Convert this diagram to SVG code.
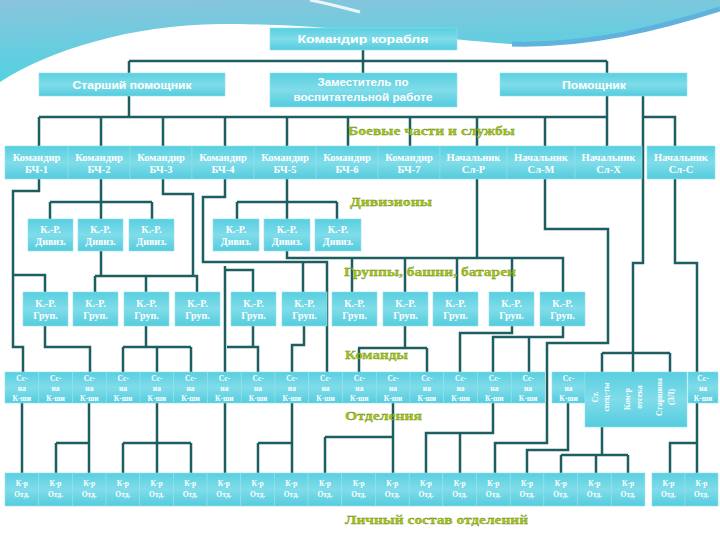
<svg xmlns="http://www.w3.org/2000/svg" width="720" height="540" viewBox="0 0 720 540">
<defs>
<linearGradient id="sky" x1="0" y1="0" x2="0.25" y2="1"><stop offset="0" stop-color="#8ac4db"/><stop offset="1" stop-color="#4fd3e3"/></linearGradient>
<linearGradient id="bx" x1="0" y1="0" x2="0" y2="1"><stop offset="0" stop-color="#58cfe0"/><stop offset="0.5" stop-color="#80dce9"/><stop offset="1" stop-color="#54ccde"/></linearGradient>
<style>
.n{fill:url(#bx);stroke:#8fe2ec;stroke-width:0.6}
.t{font-family:"Liberation Serif","DejaVu Serif",serif;font-weight:bold;fill:#fff;text-anchor:middle}
.s{font-family:"Liberation Sans","DejaVu Sans",sans-serif;font-weight:bold;fill:#fff;text-anchor:middle;font-size:11px}
.c path{fill:none;stroke:#1d5e60;stroke-width:2.5}
.l{font-family:"Liberation Serif","DejaVu Serif",serif;font-weight:bold;fill:#a6c41c;stroke:#6e8c12;stroke-width:0.3;font-size:13.5px}
.b{font-size:10.5px}
.d{font-size:10px}
.m{font-size:7.5px}
.v{font-size:8px}
</style>
</defs>
<rect width="720" height="540" fill="#ffffff"/>
<path d="M0,0 H720 V8 C660,28 580,48 510,44 C460,40 400,34 360,31 C320,27 280,24 220,24 C130,25 50,50 0,82 Z" fill="url(#sky)"/>
<path d="M512,44 C590,46 660,28 720,9" fill="none" stroke="#5fb2dc" stroke-width="5"/>
<path d="M310,0 C330,4 345,8 360,12" fill="none" stroke="#eaf6fa" stroke-width="3"/>

<g class="c" id="connectors">
<path d="M129,61 H607 M363,50 V73 M129,61 V117 M607,61 V73 M607,96 V146"/>
<path d="M39,117 H607 M39,117V146 M101,117V146 M163,117V146 M225,117V146 M287,117V146 M348,117V146 M410,117V146 M477,117V146 M545,117V146"/>
<path d="M643,96 V263 H633 V372 M643,117 H675 V146"/>
<path d="M101,179 V202 M50,202 H152 M50,202 V219 M101,202 V219 M152,202 V219"/>
<path d="M287,179 V202 M237,202 H337 M237,202 V219 M287,202 V219 M337,202 V219"/>
<path d="M39,179 V191 H13 V347 H23 V372 M13,275 H45 V292"/>
<path d="M163,179 V194 H193 V276 M95,276 H197 V292 M95,276 V292 M146,276 V292 M101,251 V276"/>
<path d="M225,179 V197 H203 V262 H327 V372 M303,262 V292"/>
<path d="M225,266 V473 M225,270 H253 V292"/>
<path d="M287,251 V258 H563 V292 M352,258 V292 M405,258 V292 M457,258 V292 M512,258 V292 M477,179 V258"/>
<path d="M545,179 V229 H608 V343 H547 V443 H495 V473"/>
<path d="M675,179 V263 H697 V372 M697,403 V443 H670 V473 M697,443 V473"/>
<path d="M602,353 H670 M602,353 V372 M670,353 V372"/>
<path d="M602,427 V455 M561,455 H628 M561,455 V473 M596,455 V473 M628,455 V473"/>
<path d="M45,326 V347 H90 V372"/>
<path d="M146,326 V347 M123,347 H191 M123,347 V372 M157,347 V372 M191,347 V372"/>
<path d="M253,326 V347 H258 V372 M227,347 H253"/>
<path d="M304,326 V345 H292 V372"/>
<path d="M405,326 V348 M358,348 H427 M359,348 V372 M427,348 V372"/>
<path d="M512,326 V333 H460 V372"/>
<path d="M563,326 V337 H493 V372 M529,337 V372"/>
<path d="M22,403 V473"/>
<path d="M89,403 V473 M56,443 H89 M56,443 V473"/>
<path d="M157,403 V473 M123,443 H191 M123,443 V473 M191,443 V473"/>
<path d="M292,403 V473 M258,443 H292 M258,443 V473"/>
<path d="M393,403 V437 M325,437 H393 M325,437 V473 M393,437 V473"/>
<path d="M493,403 V433 H426 V473 M460,433 V473"/>
<path d="M568,403 V450 H527 V473"/>
</g>

<g id="labels">
<text class="l" x="348" y="135" textLength="167" lengthAdjust="spacingAndGlyphs">Боевые части и службы</text>
<text class="l" x="350" y="206" textLength="82" lengthAdjust="spacingAndGlyphs">Дивизионы</text>
<text class="l" x="344" y="276" textLength="172" lengthAdjust="spacingAndGlyphs">Группы, башни, батареи</text>
<text class="l" x="345" y="359" textLength="63" lengthAdjust="spacingAndGlyphs">Команды</text>
<text class="l" x="345" y="420" textLength="77" lengthAdjust="spacingAndGlyphs">Отделения</text>
<text class="l" x="345" y="524" textLength="183" lengthAdjust="spacingAndGlyphs">Личный состав отделений</text>
</g>

<g id="n-cmd"><rect class="n" x="270" y="28" width="187" height="22"/><text class="s" x="363" y="43" textLength="131" lengthAdjust="spacingAndGlyphs">Командир корабля</text></g>
<g id="n-star"><rect class="n" x="39" y="73" width="186" height="23"/><text class="s" x="132" y="88.5" textLength="119" lengthAdjust="spacingAndGlyphs">Старший помощник</text></g>
<g id="n-zam"><rect class="n" x="270" y="73" width="187" height="34"/><text class="s" x="363" y="86" textLength="91" lengthAdjust="spacingAndGlyphs">Заместитель по</text><text class="s" x="363" y="101" textLength="139" lengthAdjust="spacingAndGlyphs">воспитательной работе</text></g>
<g id="n-pom"><rect class="n" x="500" y="73" width="187" height="23"/><text class="s" x="594" y="88.5" textLength="64" lengthAdjust="spacingAndGlyphs">Помощник</text></g>

<g id="n-bch1"><rect class="n" x="5" y="146" width="63" height="33"/><text class="t b" x="36.5" y="161">Командир</text><text class="t b" x="36.5" y="173">БЧ-1</text></g>
<g id="n-bch2"><rect class="n" x="68" y="146" width="62" height="33"/><text class="t b" x="99" y="161">Командир</text><text class="t b" x="99" y="173">БЧ-2</text></g>
<g id="n-bch3"><rect class="n" x="130" y="146" width="62" height="33"/><text class="t b" x="161" y="161">Командир</text><text class="t b" x="161" y="173">БЧ-3</text></g>
<g id="n-bch4"><rect class="n" x="192" y="146" width="62" height="33"/><text class="t b" x="223" y="161">Командир</text><text class="t b" x="223" y="173">БЧ-4</text></g>
<g id="n-bch5"><rect class="n" x="254" y="146" width="62" height="33"/><text class="t b" x="285" y="161">Командир</text><text class="t b" x="285" y="173">БЧ-5</text></g>
<g id="n-bch6"><rect class="n" x="316" y="146" width="62" height="33"/><text class="t b" x="347" y="161">Командир</text><text class="t b" x="347" y="173">БЧ-6</text></g>
<g id="n-bch7"><rect class="n" x="378" y="146" width="62" height="33"/><text class="t b" x="409" y="161">Командир</text><text class="t b" x="409" y="173">БЧ-7</text></g>
<g id="n-slr"><rect class="n" x="440" y="146" width="67" height="33"/><text class="t b" x="473.5" y="161">Начальник</text><text class="t b" x="473.5" y="173">Сл-Р</text></g>
<g id="n-slm"><rect class="n" x="507" y="146" width="68" height="33"/><text class="t b" x="541" y="161">Начальник</text><text class="t b" x="541" y="173">Сл-М</text></g>
<g id="n-slh"><rect class="n" x="575" y="146" width="67" height="33"/><text class="t b" x="608.5" y="161">Начальник</text><text class="t b" x="608.5" y="173">Сл-Х</text></g>
<g id="n-slc"><rect class="n" x="647" y="146" width="68" height="33"/><text class="t b" x="681" y="161">Начальник</text><text class="t b" x="681" y="173">Сл-С</text></g>

<g id="n-div1"><rect class="n" x="28" y="219" width="45" height="32"/><text class="t d" x="50.5" y="233">К.-Р.</text><text class="t d" x="50.5" y="245">Дивиз.</text></g>
<g id="n-div2"><rect class="n" x="78" y="219" width="45" height="32"/><text class="t d" x="100.5" y="233">К.-Р.</text><text class="t d" x="100.5" y="245">Дивиз.</text></g>
<g id="n-div3"><rect class="n" x="129" y="219" width="45" height="32"/><text class="t d" x="151.5" y="233">К.-Р.</text><text class="t d" x="151.5" y="245">Дивиз.</text></g>
<g id="n-div4"><rect class="n" x="213" y="219" width="46" height="32"/><text class="t d" x="236" y="233">К.-Р.</text><text class="t d" x="236" y="245">Дивиз.</text></g>
<g id="n-div5"><rect class="n" x="264" y="219" width="46" height="32"/><text class="t d" x="287" y="233">К.-Р.</text><text class="t d" x="287" y="245">Дивиз.</text></g>
<g id="n-div6"><rect class="n" x="315" y="219" width="46" height="32"/><text class="t d" x="338" y="233">К.-Р.</text><text class="t d" x="338" y="245">Дивиз.</text></g>

<g id="n-gr1"><rect class="n" x="23" y="292" width="45" height="34"/><text class="t d" x="45.5" y="307">К.-Р.</text><text class="t d" x="45.5" y="319">Груп.</text></g>
<g id="n-gr2"><rect class="n" x="73" y="292" width="45" height="34"/><text class="t d" x="95.5" y="307">К.-Р.</text><text class="t d" x="95.5" y="319">Груп.</text></g>
<g id="n-gr3"><rect class="n" x="124" y="292" width="45" height="34"/><text class="t d" x="146.5" y="307">К.-Р.</text><text class="t d" x="146.5" y="319">Груп.</text></g>
<g id="n-gr4"><rect class="n" x="175" y="292" width="45" height="34"/><text class="t d" x="197.5" y="307">К.-Р.</text><text class="t d" x="197.5" y="319">Груп.</text></g>
<g id="n-gr5"><rect class="n" x="231" y="292" width="45" height="34"/><text class="t d" x="253.5" y="307">К.-Р.</text><text class="t d" x="253.5" y="319">Груп.</text></g>
<g id="n-gr6"><rect class="n" x="282" y="292" width="45" height="34"/><text class="t d" x="304.5" y="307">К.-Р.</text><text class="t d" x="304.5" y="319">Груп.</text></g>
<g id="n-gr7"><rect class="n" x="332" y="292" width="45" height="34"/><text class="t d" x="354.5" y="307">К.-Р.</text><text class="t d" x="354.5" y="319">Груп.</text></g>
<g id="n-gr8"><rect class="n" x="383" y="292" width="45" height="34"/><text class="t d" x="405.5" y="307">К.-Р.</text><text class="t d" x="405.5" y="319">Груп.</text></g>
<g id="n-gr9"><rect class="n" x="433" y="292" width="45" height="34"/><text class="t d" x="455.5" y="307">К.-Р.</text><text class="t d" x="455.5" y="319">Груп.</text></g>
<g id="n-gr10"><rect class="n" x="489" y="292" width="45" height="34"/><text class="t d" x="511.5" y="307">К.-Р.</text><text class="t d" x="511.5" y="319">Груп.</text></g>
<g id="n-gr11"><rect class="n" x="540" y="292" width="45" height="34"/><text class="t d" x="562.5" y="307">К.-Р.</text><text class="t d" x="562.5" y="319">Груп.</text></g>

<g id="n-k1"><rect class="n" x="5" y="372" width="33.75" height="31"/><text class="t m" x="21.9" y="381">Сс-</text><text class="t m" x="21.9" y="391">на</text><text class="t m" x="21.9" y="400.5">К-ши</text></g>
<g id="n-k2"><rect class="n" x="38.75" y="372" width="33.75" height="31"/><text class="t m" x="55.6" y="381">Сс-</text><text class="t m" x="55.6" y="391">на</text><text class="t m" x="55.6" y="400.5">К-ши</text></g>
<g id="n-k3"><rect class="n" x="72.5" y="372" width="33.75" height="31"/><text class="t m" x="89.4" y="381">Сс-</text><text class="t m" x="89.4" y="391">на</text><text class="t m" x="89.4" y="400.5">К-ши</text></g>
<g id="n-k4"><rect class="n" x="106.25" y="372" width="33.75" height="31"/><text class="t m" x="123.1" y="381">Сс-</text><text class="t m" x="123.1" y="391">на</text><text class="t m" x="123.1" y="400.5">К-ши</text></g>
<g id="n-k5"><rect class="n" x="140" y="372" width="33.75" height="31"/><text class="t m" x="156.9" y="381">Сс-</text><text class="t m" x="156.9" y="391">на</text><text class="t m" x="156.9" y="400.5">К-ши</text></g>
<g id="n-k6"><rect class="n" x="173.75" y="372" width="33.75" height="31"/><text class="t m" x="190.6" y="381">Сс-</text><text class="t m" x="190.6" y="391">на</text><text class="t m" x="190.6" y="400.5">К-ши</text></g>
<g id="n-k7"><rect class="n" x="207.5" y="372" width="33.75" height="31"/><text class="t m" x="224.4" y="381">Сс-</text><text class="t m" x="224.4" y="391">на</text><text class="t m" x="224.4" y="400.5">К-ши</text></g>
<g id="n-k8"><rect class="n" x="241.25" y="372" width="33.75" height="31"/><text class="t m" x="258.1" y="381">Сс-</text><text class="t m" x="258.1" y="391">на</text><text class="t m" x="258.1" y="400.5">К-ши</text></g>
<g id="n-k9"><rect class="n" x="275" y="372" width="33.75" height="31"/><text class="t m" x="291.9" y="381">Сс-</text><text class="t m" x="291.9" y="391">на</text><text class="t m" x="291.9" y="400.5">К-ши</text></g>
<g id="n-k10"><rect class="n" x="308.75" y="372" width="33.75" height="31"/><text class="t m" x="325.6" y="381">Сс-</text><text class="t m" x="325.6" y="391">на</text><text class="t m" x="325.6" y="400.5">К-ши</text></g>
<g id="n-k11"><rect class="n" x="342.5" y="372" width="33.75" height="31"/><text class="t m" x="359.4" y="381">Сс-</text><text class="t m" x="359.4" y="391">на</text><text class="t m" x="359.4" y="400.5">К-ши</text></g>
<g id="n-k12"><rect class="n" x="376.25" y="372" width="33.75" height="31"/><text class="t m" x="393.1" y="381">Сс-</text><text class="t m" x="393.1" y="391">на</text><text class="t m" x="393.1" y="400.5">К-ши</text></g>
<g id="n-k13"><rect class="n" x="410" y="372" width="33.75" height="31"/><text class="t m" x="426.9" y="381">Сс-</text><text class="t m" x="426.9" y="391">на</text><text class="t m" x="426.9" y="400.5">К-ши</text></g>
<g id="n-k14"><rect class="n" x="443.75" y="372" width="33.75" height="31"/><text class="t m" x="460.6" y="381">Сс-</text><text class="t m" x="460.6" y="391">на</text><text class="t m" x="460.6" y="400.5">К-ши</text></g>
<g id="n-k15"><rect class="n" x="477.5" y="372" width="33.75" height="31"/><text class="t m" x="494.4" y="381">Сс-</text><text class="t m" x="494.4" y="391">на</text><text class="t m" x="494.4" y="400.5">К-ши</text></g>
<g id="n-k16"><rect class="n" x="511.25" y="372" width="33.75" height="31"/><text class="t m" x="528.1" y="381">Сс-</text><text class="t m" x="528.1" y="391">на</text><text class="t m" x="528.1" y="400.5">К-ши</text></g>
<g id="n-k17"><rect class="n" x="552" y="372" width="33" height="31"/><text class="t m" x="568.5" y="381">Сс-</text><text class="t m" x="568.5" y="391">на</text><text class="t m" x="568.5" y="400.5">К-ши</text></g>
<g id="n-k18"><rect class="n" x="585" y="372" width="102" height="55"/>
<text class="t v" transform="rotate(-90 598 397)" x="598" y="397">Ст.</text>
<text class="t v" transform="rotate(-90 609 397)" x="609" y="397">спец-ты</text>
<text class="t v" transform="rotate(-90 630 399)" x="630" y="399">Ком-р</text>
<text class="t v" transform="rotate(-90 642 397)" x="642" y="397">отсека</text>
<text class="t v" transform="rotate(-90 662 397)" x="662" y="397">Старшина</text>
<text class="t v" transform="rotate(-90 674 397)" x="674" y="397">(ЭЛ)</text>
</g>
<g id="n-k19"><rect class="n" x="688" y="372" width="30" height="31"/><text class="t m" x="703" y="381">Сс-</text><text class="t m" x="703" y="391">на</text><text class="t m" x="703" y="400.5">К-ши</text></g>

<g id="n-o1"><rect class="n" x="5" y="473" width="33.68" height="33"/><text class="t m" x="21.8" y="486">К-р</text><text class="t m" x="21.8" y="497">Отд.</text></g>
<g id="n-o2"><rect class="n" x="38.68" y="473" width="33.68" height="33"/><text class="t m" x="55.5" y="486">К-р</text><text class="t m" x="55.5" y="497">Отд.</text></g>
<g id="n-o3"><rect class="n" x="72.36" y="473" width="33.68" height="33"/><text class="t m" x="89.2" y="486">К-р</text><text class="t m" x="89.2" y="497">Отд.</text></g>
<g id="n-o4"><rect class="n" x="106.04" y="473" width="33.68" height="33"/><text class="t m" x="122.9" y="486">К-р</text><text class="t m" x="122.9" y="497">Отд.</text></g>
<g id="n-o5"><rect class="n" x="139.72" y="473" width="33.68" height="33"/><text class="t m" x="156.6" y="486">К-р</text><text class="t m" x="156.6" y="497">Отд.</text></g>
<g id="n-o6"><rect class="n" x="173.4" y="473" width="33.68" height="33"/><text class="t m" x="190.2" y="486">К-р</text><text class="t m" x="190.2" y="497">Отд.</text></g>
<g id="n-o7"><rect class="n" x="207.08" y="473" width="33.68" height="33"/><text class="t m" x="223.9" y="486">К-р</text><text class="t m" x="223.9" y="497">Отд.</text></g>
<g id="n-o8"><rect class="n" x="240.76" y="473" width="33.68" height="33"/><text class="t m" x="257.6" y="486">К-р</text><text class="t m" x="257.6" y="497">Отд.</text></g>
<g id="n-o9"><rect class="n" x="274.44" y="473" width="33.68" height="33"/><text class="t m" x="291.3" y="486">К-р</text><text class="t m" x="291.3" y="497">Отд.</text></g>
<g id="n-o10"><rect class="n" x="308.12" y="473" width="33.68" height="33"/><text class="t m" x="325" y="486">К-р</text><text class="t m" x="325" y="497">Отд.</text></g>
<g id="n-o11"><rect class="n" x="341.8" y="473" width="33.68" height="33"/><text class="t m" x="358.7" y="486">К-р</text><text class="t m" x="358.7" y="497">Отд.</text></g>
<g id="n-o12"><rect class="n" x="375.48" y="473" width="33.68" height="33"/><text class="t m" x="392.3" y="486">К-р</text><text class="t m" x="392.3" y="497">Отд.</text></g>
<g id="n-o13"><rect class="n" x="409.16" y="473" width="33.68" height="33"/><text class="t m" x="426" y="486">К-р</text><text class="t m" x="426" y="497">Отд.</text></g>
<g id="n-o14"><rect class="n" x="442.84" y="473" width="33.68" height="33"/><text class="t m" x="459.7" y="486">К-р</text><text class="t m" x="459.7" y="497">Отд.</text></g>
<g id="n-o15"><rect class="n" x="476.52" y="473" width="33.68" height="33"/><text class="t m" x="493.4" y="486">К-р</text><text class="t m" x="493.4" y="497">Отд.</text></g>
<g id="n-o16"><rect class="n" x="510.2" y="473" width="33.68" height="33"/><text class="t m" x="527.1" y="486">К-р</text><text class="t m" x="527.1" y="497">Отд.</text></g>
<g id="n-o17"><rect class="n" x="543.88" y="473" width="33.68" height="33"/><text class="t m" x="560.8" y="486">К-р</text><text class="t m" x="560.8" y="497">Отд.</text></g>
<g id="n-o18"><rect class="n" x="577.56" y="473" width="33.68" height="33"/><text class="t m" x="594.4" y="486">К-р</text><text class="t m" x="594.4" y="497">Отд.</text></g>
<g id="n-o19"><rect class="n" x="611.24" y="473" width="33.68" height="33"/><text class="t m" x="628.1" y="486">К-р</text><text class="t m" x="628.1" y="497">Отд.</text></g>
<g id="n-o20"><rect class="n" x="652" y="473" width="33" height="33"/><text class="t m" x="668.5" y="486">К-р</text><text class="t m" x="668.5" y="497">Отд.</text></g>
<g id="n-o21"><rect class="n" x="685" y="473" width="33" height="33"/><text class="t m" x="701.5" y="486">К-р</text><text class="t m" x="701.5" y="497">Отд.</text></g>
</svg>
